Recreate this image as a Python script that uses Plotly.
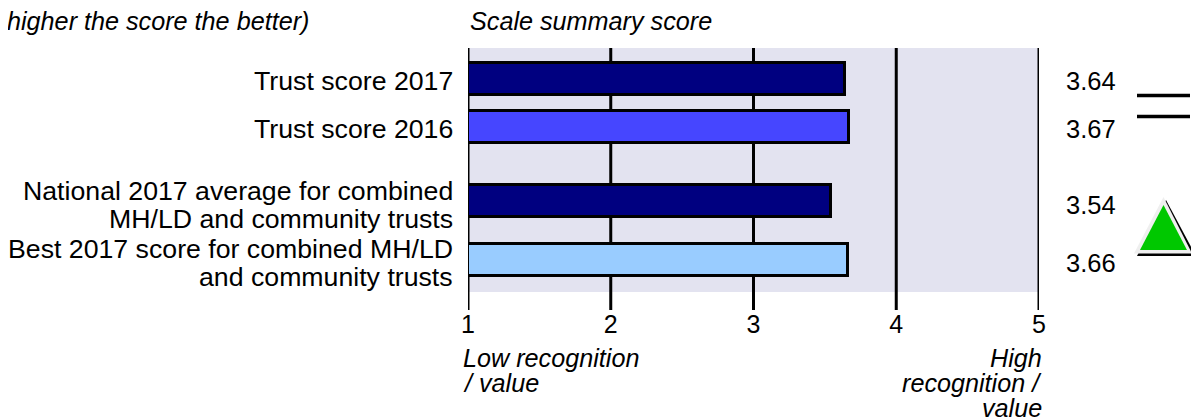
import plotly.graph_objects as go

W, H = 1199, 419
OFF = 8  # page body margin
L, R, T, B = 468, 1039, 48, 307
GRID_BOTTOM = 310

# data
categories = ["Trust score 2017", "Trust score 2016",
              "National 2017 average for combined MH/LD and community trusts",
              "Best 2017 score for combined MH/LD and community trusts"]
label_lines = [["Trust score 2017"], ["Trust score 2016"],
               ["National 2017 average for combined", "MH/LD and community trusts"],
               ["Best 2017 score for combined MH/LD", "and community trusts"]]
scores = [3.64, 3.67, 3.54, 3.66]
score_labels = ["3.64", "3.67", "3.54", "3.66"]
tick_values = [1, 2, 3, 4, 5]
tick_labels = ["1", "2", "3", "4", "5"]

# layout (pixel rows from the chart's top edge)
bar_rows = [78.5, 126.5, 201, 259.5]
colors = ["#000080", "#4646FF", "#000080", "#99CCFF"]
FS_LABEL = 26.7
FS_VALUE = 25.5
FS_ITALIC = 25.2
FS_TICK = 25
FONT = "Liberation Sans"

def px(x): return (x - L) / (R - L)
def py(y): return (B - y) / (B - T)

fig = go.Figure()
fig.add_trace(go.Bar(
    y=bar_rows, x=[s - 1 for s in scores], base=1, orientation="h", width=32,
    marker=dict(color=colors, line=dict(color="black", width=3)),
    customdata=categories, hoverinfo="skip", showlegend=False))

shapes = [
    dict(type="rect", layer="below", xref="x", yref="paper", x0=1, x1=5,
         y0=py(292), y1=1, fillcolor="#E3E3F0", line_width=0),
]
for v in tick_values:
    shapes.append(dict(type="line", layer="below", xref="x", yref="paper", x0=v, x1=v,
                       y0=py(GRID_BOTTOM), y1=1,
                       line=dict(color="black", width=3)))
for y in (95.5, 116.5):
    shapes.append(dict(type="line", xref="paper", yref="paper", x0=px(1137), x1=px(1190),
                       y0=py(y), y1=py(y), line=dict(color="black", width=3.5)))

def tri(pts, fill):
    path = "M " + " L ".join(f"{px(a):.5f},{py(b):.5f}" for a, b in pts) + " Z"
    return dict(type="path", xref="paper", yref="paper", path=path, fillcolor=fill,
                line=dict(width=0))

shapes += [
    tri([(1166, 200), (1196, 256), (1137, 256)], "black"),
    tri([(1163.5, 197), (1192, 253.5), (1134, 253.5)], "#EFEFEF"),
    tri([(1163.5, 205), (1187, 250), (1140, 250)], "#00C800"),
]

ann = []
def text(x, y, s, size, anchor="left", italic=False):
    ann.append(dict(xref="paper", yref="paper", x=px(x), y=py(y), text=s, showarrow=False,
                    xanchor=anchor, yanchor="middle", align=anchor,
                    font=dict(family=FONT, size=size, color="black",
                              style="italic" if italic else "normal"),
                    borderpad=0, borderwidth=0))

LINE_GAP = 28
centers = [80.5, 128.5, 205, 262.5]
for lines, c in zip(label_lines, centers):
    for i, s in enumerate(lines):
        text(453, c + (i - (len(lines) - 1) / 2) * LINE_GAP, s, FS_LABEL, "right")
for s, c in zip(score_labels, centers):
    text(1066, c, s, FS_VALUE)

text(470, 21, "Scale summary score", FS_ITALIC, italic=True)
text(6.5, 21, "higher the score the better)", FS_ITALIC, italic=True)
for i, s in enumerate(["Low recognition", "/ value"]):
    text(463, 358 + i * 25, s, FS_ITALIC, italic=True)
for i, s in enumerate(["High", "recognition /", "value"]):
    text(1042, 358 + i * 25, s, FS_ITALIC, "right", italic=True)

fig.update_layout(
    width=W - OFF, height=H - OFF, autosize=False, bargap=0,
    margin=dict(l=L - OFF, r=W - R, t=T - OFF, b=H - B, pad=0),
    paper_bgcolor="white", plot_bgcolor="rgba(0,0,0,0)",
    shapes=shapes, annotations=ann, showlegend=False,
    xaxis=dict(range=[1, 5], tickmode="array", tickvals=tick_values, ticktext=tick_labels,
               showgrid=False, zeroline=False, showline=False, ticks="",
               tickfont=dict(family=FONT, size=FS_TICK, color="black")),
    yaxis=dict(range=[B, T], showgrid=False, zeroline=False, showticklabels=False,
               ticks="", showline=False),
)
fig.write_html("out.html", config=dict(displayModeBar=False))
